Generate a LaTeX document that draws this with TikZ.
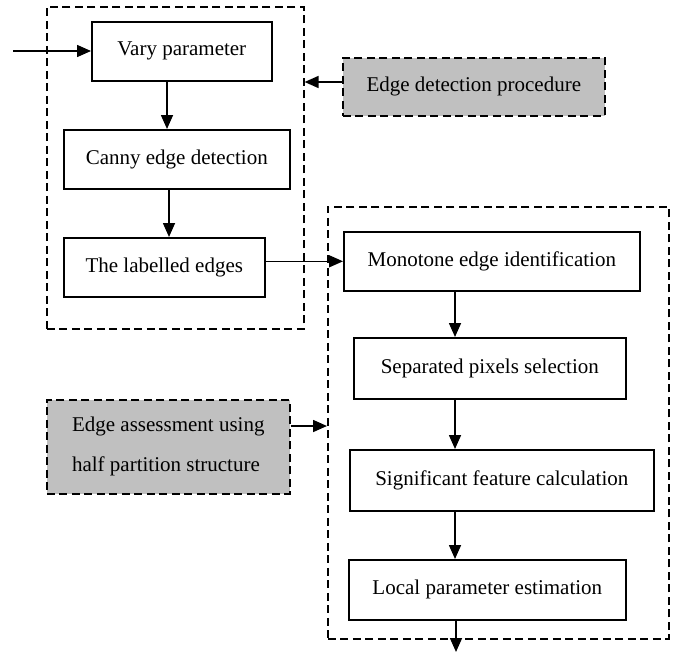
\documentclass[tikz,border=0pt]{standalone}
\usepackage{fontspec}
\setmainfont{Liberation Serif}
\usetikzlibrary{arrows.meta}
\definecolor{gfill}{RGB}{192,192,192}
\begin{document}
\begin{tikzpicture}[x=1pt,y=-1pt,
  txt/.style={font=\fontsize{21}{40}\selectfont},
  box/.style={draw, line width=1.6pt, inner sep=0pt, anchor=north west, txt},
  dbox/.style={draw, dash pattern=on 8pt off 4.5pt, line width=1.6pt, inner sep=0pt, anchor=north west},
  gbox/.style={dbox, fill=gfill, txt},
  arr/.style={-{Triangle[length=14pt,width=12pt]}, line width=1.6pt}]
\useasboundingbox (0,0) rectangle (676,653);
% dashed groups
\node[dbox, minimum width=257pt, minimum height=322pt] (L) at (46,6) {};
\node[dbox, minimum width=341pt, minimum height=432pt] (R) at (327,206) {};
% boxes
\node[box, minimum width=180pt, minimum height=59pt] (vary) at (91,21) {Vary parameter};
\node[box, minimum width=226pt, minimum height=59pt] (canny) at (63,129) {Canny edge detection};
\node[box, minimum width=201pt, minimum height=59pt] (lab) at (63,237) {The labelled edges};
\node[gbox, minimum width=262pt, minimum height=58pt] (edp) at (342,57) {Edge detection procedure};
\node[box, minimum width=296pt, minimum height=59pt] (mono) at (343,231) {Monotone edge identification};
\node[box, minimum width=272pt, minimum height=61pt] (sep) at (353,337) {Separated pixels selection};
\node[box, minimum width=304pt, minimum height=61pt] (sig) at (349,449) {Significant feature calculation};
\node[box, minimum width=277pt, minimum height=60pt] (loc) at (348,559) {Local parameter estimation};
\node[gbox, minimum width=243pt, minimum height=94pt, align=left] (ea) at (46,399) {Edge assessment using\\half partition structure};
% helper coordinates
\coordinate (in) at (13,51);
\coordinate (xa) at (167,0);
\coordinate (xb) at (169,0);
\coordinate (xc) at (455,0);
\coordinate (ya) at (0,82);
\coordinate (yb) at (0,426);
\coordinate (out) at (456,652);
% connectors
\draw[arr] (in) -- (vary.west |- in);
\draw[arr] (vary.south -| xa) -- (canny.north -| xa);
\draw[arr] (canny.south -| xb) -- (lab.north -| xb);
\draw[arr] (edp.west |- ya) -- (L.east |- ya);
\draw[arr] (lab.east |- mono.west) -- (mono.west);
\draw[arr] (mono.south -| xc) -- (sep.north -| xc);
\draw[arr] (sep.south -| xc) -- (sig.north -| xc);
\draw[arr] (sig.south -| xc) -- (loc.north -| xc);
\draw[arr] (loc.south -| out) -- (out);
\draw[arr] (ea.east |- yb) -- (R.west |- yb);
\end{tikzpicture}
\end{document}
